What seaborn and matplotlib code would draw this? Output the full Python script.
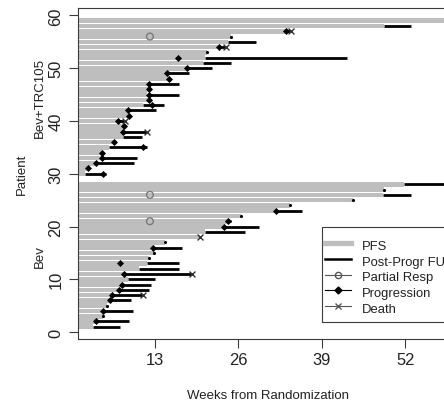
import numpy as np
import pandas as pd
import matplotlib
matplotlib.use("Agg")
import matplotlib.pyplot as plt
import seaborn as sns
from matplotlib.lines import Line2D
from matplotlib.patches import Rectangle
from matplotlib.transforms import blended_transform_factory

nan = np.nan

# ---- Bev group (patients 1-28) ----
bev_patient = list(range(1, 29))
bev_pfs = [3.3, 3.8, 4.85, 4.96, 5.5, 6.05, 6.3, 7.35, 7.85, 8.8, 8.2, 10.5, 11.76, 12.1,
           12.8, 12.7, 14.5, 20.0, 20.8, 23.8, 24.4, 26.4, 31.85, 34.0, 43.9, 48.5, 48.7, 51.8]
bev_fu = [7.5, 9.0, 4.85, 9.5, 5.5, 9.27, 11.1, 12.1, 12.4, 13.05, 18.8, 16.8, 16.7, 12.1,
          12.8, 17.2, 14.5, 20.0, 27.0, 29.25, 24.8, 26.4, 35.9, 34.0, 43.9, 52.8, 48.7, 62.0]
bev_prog = [nan, 3.8, nan, 4.96, nan, 6.05, 6.3, 7.35, 7.85, nan, 8.2, nan, 7.5, nan,
            nan, 12.7, nan, nan, nan, 23.8, 24.4, nan, 31.85, nan, nan, nan, nan, nan]
bev_dot = [nan, nan, 4.85, nan, 5.5, nan, nan, nan, nan, nan, nan, nan, nan, 12.1,
           12.8, nan, 14.5, nan, nan, nan, nan, 26.4, nan, 34.0, 43.9, nan, 48.7, nan]
bev_pr = [nan] * 20 + [12.2, nan, nan, nan, nan, 12.2, nan, nan]
bev_death = [nan] * 6 + [11.1, nan, nan, nan, 18.8] + [nan] * 6 + [20.0] + [nan] * 10

# ---- Bev+TRC105 group (patients 30-59) ----
trc_patient = list(range(30, 60))
trc_pfs = [2.1, 2.6, 3.8, 4.6, 4.7, 5.9, 6.6, 8.0, 8.0, 8.1, 7.3, 9.0, 8.85, 11.1, 12.0,
           11.8, 12.0, 12.0, 15.1, 14.9, 18.0, 20.5, 20.8, 21.1, 23.0, 24.4, 24.8, 33.3, 48.7, 62.0]
trc_fu = [5.3, 2.6, 9.7, 10.2, 4.7, 11.8, 6.6, 10.9, 11.8, 8.1, 8.3, 9.0, 13.2, 14.4, 12.0,
          16.7, 12.0, 16.7, 15.1, 18.3, 21.9, 24.8, 42.9, 21.1, 24.0, 28.7, 24.8, 34.2, 52.8, 62.0]
trc_prog = [4.9, 2.6, 3.8, 4.75, 4.7, 11.2, 6.6, nan, 8.0, 8.1, 7.3, 9.0, 8.85, 12.6, 12.0,
            12.0, 12.0, 12.0, 15.1, 14.9, 18.0, nan, 16.6, nan, 23.0, nan, nan, 33.4, nan, nan]
trc_dot = [nan] * 23 + [21.1, nan, nan, 24.8, nan, nan, nan]
trc_pr = [nan] * 26 + [12.2, nan, nan, nan]
trc_death = [nan] * 8 + [11.8, nan, 8.3] + [nan] * 13 + [24.0, nan, nan, 34.2, nan, nan]

df = pd.DataFrame({
    "patient": bev_patient + trc_patient,
    "pfs": bev_pfs + trc_pfs,
    "fu": bev_fu + trc_fu,
    "prog": bev_prog + trc_prog,
    "dot": bev_dot + trc_dot,
    "pr": bev_pr + trc_pr,
    "death": bev_death + trc_death,
})

plt.rcParams['font.family'] = ['Liberation Sans', 'DejaVu Sans']
axis_col = "#3a3a3a"
text_col = "#222222"

fig = plt.figure(figsize=(4.44, 4.02), dpi=100)
ax = fig.add_axes([0.1757, 0.1542, 0.8559, 0.8222])

sns.barplot(data=df, x="pfs", y="patient", orient="h", native_scale=True,
            color="#bebebe", saturation=1, width=0.88, errorbar=None,
            linewidth=0, ax=ax, zorder=1)
ax.hlines(df["patient"], df["pfs"], df["fu"], color="black", lw=2.0, zorder=2)

sns.scatterplot(data=df, x="prog", y="patient", marker="D", s=13, color="black",
                linewidth=0, ax=ax, zorder=4)
sns.scatterplot(data=df, x="dot", y="patient", marker="o", s=5, color="black",
                linewidth=0, ax=ax, zorder=4)
sns.scatterplot(data=df, x="pr", y="patient", marker="o", s=24, facecolor="none",
                edgecolor="#7a7a7a", linewidth=1.0, ax=ax, zorder=4)
sns.scatterplot(data=df, x="death", y="patient", marker="x", s=18, color="#333333",
                linewidth=1.0, ax=ax, zorder=4)

ax.set_xlim(1.0, 60.2)
ax.set_ylim(-1.32, 61.32)
ax.set_xticks([13, 26, 39, 52])
ax.set_yticks([0, 10, 20, 30, 40, 50, 60])
ax.set_xticklabels(["13", "26", "39", "52"])
ax.set_yticklabels(["0", "10", "20", "30", "40", "50", "60"], rotation=90, va="center")
ax.set_xlabel("")
ax.set_ylabel("")
ax.tick_params(axis="both", direction="out", length=6.5, width=0.8, color=axis_col,
               labelsize=11.9, labelcolor=text_col)
ax.tick_params(axis="x", pad=2.5)
ax.tick_params(axis="y", pad=4)
for sp in ax.spines.values():
    sp.set_visible(True)
    sp.set_color(axis_col)
    sp.set_linewidth(0.8)

trans = blended_transform_factory(ax.transAxes, ax.transData)
ax.text(-0.147, 30, "Patient", rotation=90, ha="center", va="center",
        transform=trans, fontsize=9.5, color=text_col)
ax.text(-0.10, 14.5, "Bev", rotation=90, ha="center", va="center",
        transform=trans, fontsize=9.5, color=text_col)
ax.text(-0.10, 44.5, "Bev+TRC105", rotation=90, ha="center", va="center",
        transform=trans, fontsize=9.5, color=text_col)
fig.text(268 / 444, 1 - 396 / 402, "Weeks from Randomization", ha="center", va="center",
         fontsize=9.5, color=text_col)

# legend frame (box in data coordinates, open to the right like the reference crop)
ax.add_patch(Rectangle((39.0, 1.98), 30.0, 18.02, facecolor="white", edgecolor=axis_col,
                       linewidth=0.8, zorder=9, clip_on=False))

handles = [
    Line2D([], [], color="#bebebe", lw=3.8),
    Line2D([], [], color="black", lw=1.8),
    Line2D([], [], color="#555555", lw=0.8, marker="o", mfc="none", mec="#555555", ms=4.5),
    Line2D([], [], color="black", lw=0.8, marker="D", mfc="black", mec="black", ms=3.5),
    Line2D([], [], color="#555555", lw=0.8, marker="x", mec="#555555", ms=4.5),
]
labels = ["PFS", "Post-Progr FU", "Partial Resp", "Progression", "Death"]
leg = ax.legend(handles, labels, loc="upper left", bbox_to_anchor=(39.5, 17.85),
                bbox_transform=ax.transData, frameon=False, fontsize=9.4,
                handlelength=1.95, handleheight=1.2, handletextpad=0.85,
                labelspacing=0.12, borderpad=0.0, borderaxespad=0)
for t in leg.get_texts():
    t.set_color(text_col)
leg.set_zorder(10)

fig.savefig("out.png", dpi=100)
